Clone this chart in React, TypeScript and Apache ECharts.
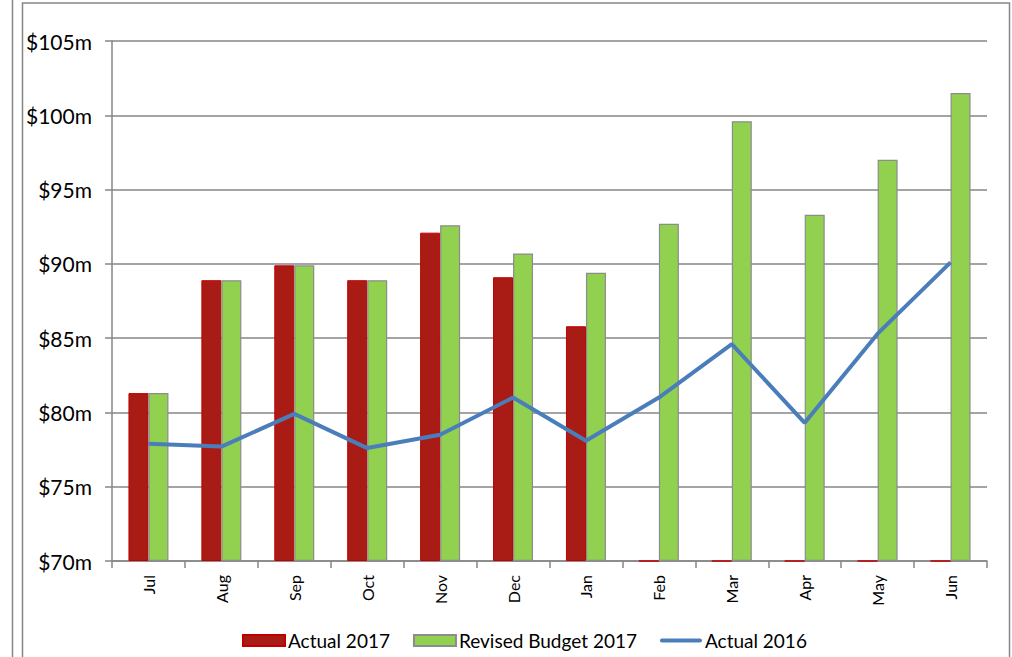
import React, { useEffect, useRef } from "react";
import * as echarts from "echarts";

const months = ["Jul", "Aug", "Sep", "Oct", "Nov", "Dec", "Jan", "Feb", "Mar", "Apr", "May", "Jun"];
const actual2017 = [81.3, 88.9, 89.9, 88.9, 92.1, 89.1, 85.8, 0, 0, 0, 0, 0];
const revisedBudget2017 = [81.3, 88.9, 89.9, 88.9, 92.6, 90.7, 89.4, 92.7, 99.6, 93.3, 97.0, 101.5];
const actual2016 = [77.9, 77.7, 79.9, 77.6, 78.5, 81.0, 78.1, 81.0, 84.6, 79.3, 85.3, 90.1];
const yTicks = [70, 75, 80, 85, 90, 95, 100, 105];

const FONT = "Lato, 'Liberation Sans', sans-serif";
const GRAY = "#868686";

export default function App() {
  const ref = useRef<HTMLDivElement>(null);
  useEffect(() => {
    if (!ref.current) return;
    const chart = echarts.init(ref.current, undefined, { renderer: "svg" });
    const yMin = yTicks[0];
    const yMax = yTicks[yTicks.length - 1];
    chart.setOption({
      animation: false,
      backgroundColor: "#ffffff",
      textStyle: { fontFamily: FONT },
      graphic: [
        { type: "line", shape: { x1: 12.5, y1: 0, x2: 12.5, y2: 657 }, style: { stroke: GRAY, lineWidth: 1.5 } },
        { type: "rect", shape: { x: 22.5, y: 3, width: 987, height: 700 }, style: { fill: "none", stroke: GRAY, lineWidth: 1.5 } },
      ],
      grid: { left: 112, right: 25, top: 41, bottom: 96, containLabel: false },
      legend: {
        top: 626,
        left: 237,
        itemWidth: 42,
        itemHeight: 11,
        itemGap: 23,
        textStyle: { fontSize: 19, color: "#000", fontFamily: FONT, padding: [0, 0, 0, -2] },
        data: [
          { name: "Actual 2017", icon: "rect" },
          { name: "Revised Budget 2017", icon: "rect" },
          { name: "Actual 2016", icon: "path://M2,0 L40,0 A2,2 0 0 1 40,4 L2,4 A2,2 0 0 1 2,0 Z" },
        ],
      },
      xAxis: {
        type: "category",
        data: months,
        boundaryGap: true,
        axisLine: { lineStyle: { color: GRAY, width: 1.5 } },
        axisTick: { show: true, length: 7, alignWithLabel: false, lineStyle: { color: GRAY, width: 1.5 } },
        axisLabel: { rotate: 90, fontSize: 16, color: "#000", margin: 14, fontFamily: FONT },
      },
      yAxis: {
        type: "value",
        min: yMin,
        max: yMax,
        interval: 5,
        startValue: yMin,
        axisLine: { show: true, lineStyle: { color: GRAY, width: 1.5 } },
        axisTick: { show: true, length: 7, lineStyle: { color: GRAY, width: 1.5 } },
        splitLine: { show: true, lineStyle: { color: GRAY, width: 1.5 } },
        axisLabel: { fontSize: 21, color: "#000", margin: 20, fontFamily: FONT, formatter: (v: number) => "$" + v + "m" },
      },
      series: [
        {
          name: "Actual 2017",
          type: "bar",
          barWidth: 20,
          barGap: "0%",
          data: actual2017.map((v) => Math.max(v, yMin)),
          itemStyle: { color: "#A91C15", borderColor: "#C00000", borderWidth: 1 },
        },
        {
          name: "Revised Budget 2017",
          type: "bar",
          barWidth: 20,
          barGap: "0%",
          data: revisedBudget2017,
          itemStyle: { color: "#92D050", borderColor: "#8C8C8C", borderWidth: 1.2 },
        },
        {
          name: "Actual 2016",
          type: "line",
          data: actual2016,
          symbol: "none",
          showSymbol: false,
          lineStyle: { color: "#4A7EBB", width: 4 },
          itemStyle: { color: "#4A7EBB" },
        },
      ],
    });
    return () => chart.dispose();
  }, []);
  return <div ref={ref} style={{ position: "absolute", left: 0, top: 0, width: 1012, height: 657 }} />;
}
